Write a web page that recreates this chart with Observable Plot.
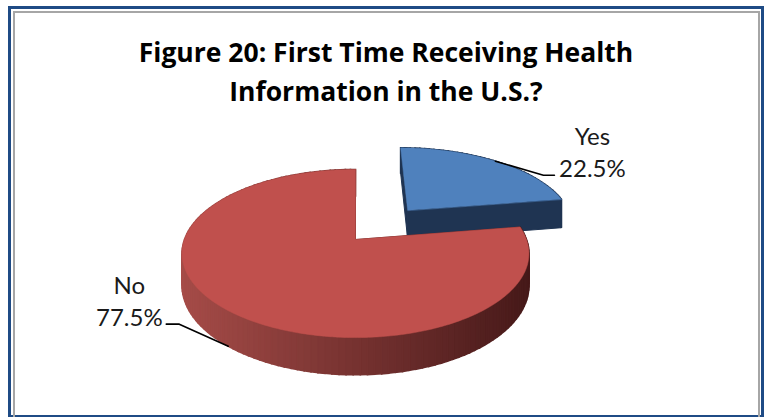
<!DOCTYPE html>
<html><head><meta charset="utf-8">
<script src="https://cdn.jsdelivr.net/npm/d3@7"></script>
<script src="https://cdn.jsdelivr.net/npm/@observablehq/plot@0.6"></script>
<style>
body{margin:0;background:#fff}
#wrap{position:relative;width:767px;height:417px;overflow:hidden;background:#fff}
#chart{position:absolute;left:0;top:0}
.outer{position:absolute;left:8px;top:6px;width:756px;height:412px;border:3px solid #1f4b85;box-sizing:border-box}
.inner{position:absolute;left:13px;top:11px;width:747px;height:420px;border:2px solid #a6a6a6;box-sizing:border-box}
#title{position:absolute;left:0;top:33px;width:772px;text-align:center;font-family:"Open Sans",sans-serif;font-weight:700;font-size:26.5px;line-height:39px;color:#000}
</style></head>
<body>
<div id="wrap">
  <div id="chart"></div>
  <div class="outer"></div>
  <div class="inner"></div>
  <div id="title">Figure 20: First Time Receiving Health<br>Information in the U.S.?</div>
</div>
<script>
// ---- data ----
const categories = ["Yes", "No"];
const values = [22.5, 77.5];
const valueLabels = ["22.5%", "77.5%"];

// ---- style / layout ----
const palette = {
  Yes: {top: "#4f81bd", wallA: "#223a5c", wallB: "#1c2f4b", cut: "#1f3452"},
  No:  {top: "#c0504d", wallA: "#a64c48", wallB: "#461919", cut: "#6e2a28"}
};
const EXPLODED = {Yes: 0.5, No: 0};
const W = 767, HGT = 417;
const CX = 355, CY = 239, R = 171, SR = 81.7, K = 0.167, H = 31;

function proj(X, Z, t) {
  const w = 1 / (1 - K * Z);
  return [CX + R * X * w, CY + (SR * Z + H * t) * w];
}
const rad = d => d * Math.PI / 180;

const total = d3.sum(values);
let acc = 0;
const slices = categories.map((c, i) => {
  const a0 = acc / total * 360; acc += values[i];
  const a1 = acc / total * 360;
  const mid = (a0 + a1) / 2;
  const e = EXPLODED[c];
  return {c, i, a0, a1, mid, ox: e * Math.sin(rad(mid)), oz: -e * Math.cos(rad(mid))};
});
function rim(s, a, t) { return proj(s.ox + Math.sin(rad(a)), s.oz - Math.cos(rad(a)), t); }
function apex(s, t) { return proj(s.ox, s.oz, t); }

function polyRows(id, pts, color) {
  return pts.map(([x, y]) => ({id, x, y, color}));
}

const layers = [];
slices.forEach(s => {
  const p = palette[s.c];
  const n = Math.max(8, Math.round((s.a1 - s.a0) / 2));
  const angles = d3.range(n + 1).map(k => s.a0 + (s.a1 - s.a0) * k / n);
  const fine = d3.range(361).map(k => s.a0 + (s.a1 - s.a0) * k / 360);
  // cut faces
  const cuts = [];
  for (const a of [s.a0, s.a1]) {
    cuts.push(polyRows(`${s.c}-cut-${a}`, [apex(s, 0), rim(s, a, 0), rim(s, a, 1), apex(s, 1)], p.cut));
  }
  // outer wall quads
  const quads = [];
  const grad = d3.interpolateRgb(p.wallA, p.wallB);
  const xl = CX - R * 1.02, xr = CX + R * 1.02;
  for (let k = 0; k < n; k++) {
    const aa = angles[k], ab = angles[k + 1];
    const pts = [rim(s, aa, 0), rim(s, ab, 0), rim(s, ab, 1), rim(s, aa, 1)];
    const mx = d3.mean(pts, d => d[0]);
    const zc = s.oz - Math.cos(rad((aa + ab) / 2));
    const tt = Math.max(0, Math.min(1, (mx - xl) / (xr - xl)));
    quads.push({z: zc, rows: polyRows(`${s.c}-wall-${k}`, pts, grad(tt))});
  }
  quads.sort((a, b) => a.z - b.z);
  // top face
  const top = polyRows(`${s.c}-top`, [apex(s, 0), ...fine.map(a => rim(s, a, 0))], p.top);
  const front = (s.oz - Math.cos(rad(s.mid))) > 0;
  if (front) {
    layers.push({rows: cuts.flat(), sw: 1}, {rows: quads.flatMap(q => q.rows), sw: 1.6});
  } else {
    layers.push({rows: quads.flatMap(q => q.rows), sw: 1.6}, {rows: cuts.flat(), sw: 1});
  }
  layers.push({rows: top, sw: 0.5});
});

// leader lines and labels
const leaders = [], labels = [];
slices.forEach((s, i) => {
  const z = s.oz - Math.cos(rad(s.mid));
  const start = rim(s, s.mid, z > 0 ? 1 : 0);
  const right = start[0] > CX;
  const elbow = right ? [start[0] + 48, start[1] + 14] : [start[0] - 49, start[1] - 22];
  const end = [elbow[0] + (right ? 11 : -13), elbow[1]];
  [start, elbow, end].forEach(([x, y]) => leaders.push({id: s.c, x, y}));
  labels.push({x: end[0] + (right ? 38 : -37), y: elbow[1] - 24, text: `${s.c}\n${valueLabels[i]}`});
});

const marks = layers.map(({rows, sw}) => Plot.line(rows, {
  x: "x", y: "y", z: "id", fill: "color", stroke: "color", strokeWidth: sw,
  curve: "linear-closed", strokeLinejoin: "miter", strokeMiterlimit: 2
}));
marks.push(Plot.line(leaders, {x: "x", y: "y", z: "id", stroke: "#000", strokeWidth: 1.6, strokeLinejoin: "miter"}));
marks.push(Plot.text(labels, {x: "x", y: "y", text: "text", textAnchor: "middle", lineAnchor: "middle",
  lineHeight: 1.33, fontSize: 24, fontFamily: "Lato, sans-serif", fill: "#1a1a1a"}));

const chart = Plot.plot({
  width: W, height: HGT,
  margin: 0,
  x: {domain: [0, W], range: [0, W], axis: null},
  y: {domain: [0, HGT], range: [0, HGT], axis: null},
  style: {background: "#fff", overflow: "visible"},
  marks
});
document.getElementById("chart").appendChild(chart);
</script>
</body></html>
